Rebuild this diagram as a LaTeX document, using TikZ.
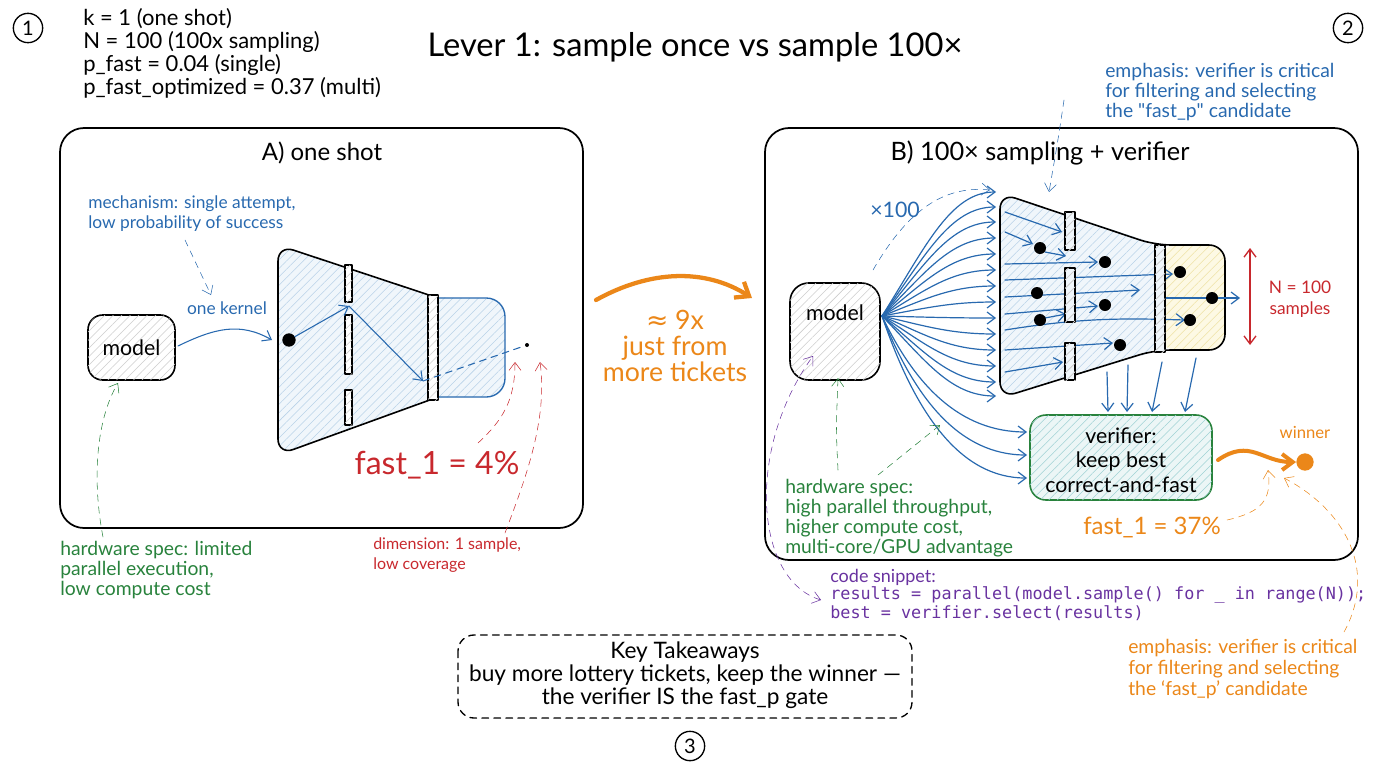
\documentclass[tikz,border=0pt]{standalone}
\usepackage{fontspec}
\setmainfont{Lato}
\setmonofont{DejaVu Sans Mono}
\newfontfamily\symf{DejaVu Sans}
\usetikzlibrary{arrows.meta,patterns.meta,calc}
\newcommand\setfs[2]{\fontsize{#1}{#2}\selectfont}
\definecolor{ablue}{RGB}{40,105,175}
\definecolor{agreen}{RGB}{40,130,60}
\definecolor{ared}{RGB}{200,40,45}
\definecolor{aorange}{RGB}{235,135,25}
\definecolor{apurple}{RGB}{105,50,160}
\definecolor{hatchblue}{RGB}{185,210,232}
\definecolor{fillblue}{RGB}{240,246,251}
\definecolor{hatchgray}{RGB}{205,205,205}
\definecolor{fillyellow}{RGB}{253,249,228}
\definecolor{hatchyellow}{RGB}{238,226,165}
\definecolor{fillteal}{RGB}{236,246,246}
\definecolor{hatchteal}{RGB}{160,210,212}
\tikzset{
  arr/.style={-{Straight Barb[length=6pt,width=9pt]}},
  darr/.style={{Straight Barb[length=6pt,width=9pt]}-{Straight Barb[length=6pt,width=9pt]}},
  dsh/.style={dash pattern=on 5pt off 4pt},
  hfill/.style 2 args={fill=#1, postaction={pattern={Lines[angle=45,distance=4.5pt,line width=0.4pt]}, pattern color=#2}},
  txt/.style={inner sep=0, align=left},
  num/.style={circle, draw, line width=1pt, minimum size=22pt, inner sep=0, font=\setfs{15}{17}},
  panel/.style={draw, line width=1.3pt, rounded corners=18pt},
  box/.style={draw, line width=1.2pt, rounded corners=11pt},
  bar/.style={draw, line width=0.8pt, hfill={white}{hatchgray}},
  ann/.style={txt, font=\setfs{13}{15}},
  dot/.style={circle, fill=black, inner sep=0, minimum size=#1},
}
\begin{document}
\begin{tikzpicture}[x=0.75pt,y=-0.75pt,line cap=round,line join=round]
\useasboundingbox (0,0) rectangle (1376,768);

% circled numbers
\node[num] (n1) at (28,28) {1};
\node[num] (n2) at (1348,28) {2};
\node[num] (n3) at (690,746) {3};

% parameters
\node[txt, anchor=north west, font=\setfs{16.5}{17.3}] (params) at (83,8)
  {k = 1 (one shot)\\N = 100 (100x sampling)\\p\_fast = 0.04 (single)\\p\_fast\_optimized = 0.37 (multi)};

% title
\node[font=\setfs{24.5}{28}] (title) at (695,47) {Lever 1: sample once vs sample 100×};

% ================= Panel A =================
\draw[panel] (60,128) rectangle (583,528);
\node[font=\setfs{18}{21}] (titleA) at (322,153) {A) one shot};

\node[ann, ablue, anchor=west] (mechA) at (88,214) {mechanism: single attempt,\\low probability of success};
\node[ablue, font=\setfs{13}{15}] (kernel) at (227,308) {one kernel};

\path[box, hfill={white}{hatchgray}] (88,315) rectangle (175,380);
\node[font=\setfs{16}{18}] (modelA) at (131.5,347.5) {model};
\coordinate (modelAe) at (178,346);
\coordinate (modelAs) at (118,383);

% funnel A
\path[hfill={fillblue}{hatchblue}, rounded corners=12pt]
  (278,300) -- (278,245) -- (438,298) -- (505,298) -- (505,397) -- (438,397) -- (278,455) -- cycle;
\draw[line width=1.2pt, rounded corners=12pt] (438,298) -- (278,245) -- (278,455) -- (438,397);
\draw[ablue, line width=1pt, rounded corners=14pt] (434,298) -- (505,298) -- (505,397) -- (434,397);
\path[bar] (345,265) rectangle (352,302);
\path[bar] (345,315) rectangle (352,374);
\path[bar] (345,390) rectangle (352,425);
\path[bar] (428,295) rectangle (438,400);
\node[dot=10pt] (startA) at (289,340) {};
\coordinate (gapA) at (349,306);
\coordinate (hitA) at (423,381);
\node[dot=3pt] (endA) at (527,345) {};
\draw[ablue, thick, arr] (modelAe) .. controls (215,328) and (240,322) .. (272,340);
\draw[ablue, thick, arr] (startA) -- (gapA);
\draw[ablue, thick, arr] (gapA) -- (hitA);
\draw[ablue, thick, dsh] (hitA) -- (endA);
\draw[ablue, dsh, arr] (185,240) -- (211,295);

\node[ared, font=\setfs{24}{28}] (fastA) at (437,465) {fast\_1 = 4\%};

\node[ann, agreen, anchor=west, font=\setfs{14.5}{15.3}] (hwA) at (60,570) {hardware spec: limited\\parallel execution,\\low compute cost};
\node[ann, ared, anchor=west, font=\setfs{12}{15}] (dimA) at (373,555) {dimension: 1 sample,\\low coverage};
\draw[agreen, dsh, arr] (103,537) .. controls (92,480) and (96,420) .. (modelAs);
\draw[ared, dsh, arr] (478,443) .. controls (503,420) and (515,400) .. (515,362);
\draw[ared, dsh, arr] (505,533) .. controls (525,480) and (548,420) .. (540,362);

% ================= middle =================
\draw[aorange, line width=3.2pt, -{Straight Barb[length=9pt,width=14pt]}] (596,300) .. controls (650,270) and (705,268) .. (752,298);
\node[aorange, font=\setfs{20}{19.5}, align=center] (gain) at (675,346) {{\symf ≈} 9x\\just from\\more tickets};

% ================= Panel B =================
\draw[panel] (765,128) rectangle (1358,560);
\node[font=\setfs{19}{21}] (titleB) at (1040,153) {B) 100× sampling + verifier};

\node[ann, ablue, anchor=west, font=\setfs{14.5}{15}] (empB) at (1105,92) {emphasis: verifier is critical\\for filtering and selecting\\the \textquotedbl fast\_p\textquotedbl{} candidate};
\draw[ablue, dsh, arr] (1064,100) .. controls (1058,140) .. (1049,192);

\path[box, rounded corners=14pt, hfill={white}{hatchgray}] (790,283) rectangle (880,380);
\node[font=\setfs{16}{18}] (modelB) at (835,313) {model};
\coordinate (modelBe) at (882,316);

% fan
\foreach \yy in {192,207,222,238,254,270,286,302,318,334,350,366,382,396} {
  \draw[ablue, line width=0.9pt, arr] (modelBe) .. controls (925,{316+(\yy-316)*0.55}) and (950,\yy) .. (996,\yy);
}
\foreach \yy in {432,455,478} {
  \draw[ablue, line width=0.9pt, arr] (modelBe) .. controls (915,{316+(\yy-316)*0.6}) and (960,\yy) .. (1027,\yy);
}
\node[ablue, font=\setfs{16}{18}] (x100) at (895,210) {×100};
\draw[ablue, dsh, arr] (873,270) .. controls (905,215) and (940,185) .. (990,190);

% funnel B
\path[hfill={fillblue}{hatchblue}, rounded corners=12pt]
  (1000,300) -- (1000,193) -- (1160,245) -- (1160,350) -- (1000,398) -- cycle;
\path[hfill={fillyellow}{hatchyellow}, rounded corners=12pt]
  (1160,245) -- (1225,245) -- (1225,350) -- (1160,350) -- cycle;
\draw[line width=1.2pt, rounded corners=12pt]
  (1000,300) -- (1000,193) -- (1155,245) -- (1225,245) -- (1225,350) -- (1155,350) -- (1000,398) -- cycle;

% internal arrows B
\draw[ablue, line width=0.9pt, arr] (1005,212) -- (1062,232);
\draw[ablue, line width=0.9pt, arr] (1005,232) -- (1033,244);
\draw[ablue, line width=0.9pt, arr] (1045,252) -- (1066,256);
\draw[ablue, line width=0.9pt, arr] (1005,264) -- (1098,262);
\draw[ablue, line width=0.9pt, arr] (1005,280) -- (1173,274);
\draw[ablue, line width=0.9pt, arr] (1005,297) -- (1140,290);
\draw[ablue, line width=0.9pt, arr] (1005,314) -- (1098,306);
\draw[ablue, line width=0.9pt, arr] (1005,330) .. controls (1080,318) and (1120,318) .. (1185,320);
\draw[ablue, line width=0.9pt, arr] (1045,318) -- (1066,314);
\draw[ablue, line width=0.9pt, arr] (1005,350) -- (1113,343);
\draw[ablue, line width=0.9pt, arr] (1005,372) -- (1063,362);
\draw[ablue, line width=0.9pt, arr] (1165,298) -- (1240,298);

\path[bar, hfill={fillblue}{hatchgray}] (1065,212) rectangle (1075,250);
\path[bar, hfill={fillblue}{hatchgray}] (1065,268) rectangle (1075,322);
\path[bar, hfill={fillblue}{hatchgray}] (1065,343) rectangle (1075,380);
\path[bar, hfill={fillblue}{hatchgray}] (1155,245) rectangle (1165,352);

\foreach \p/\q in {1040/248, 1105/262, 1180/272, 1037/293, 1105/305, 1212/298, 1040/320, 1190/320, 1120/345} {
  \node[dot=9pt] at (\p,\q) {};
}

% N = 100
\coordinate (nTop) at (1250,248);
\coordinate (nBot) at (1250,345);
\draw[ared, line width=1pt, darr] (nTop) -- (nBot);
\node[ared, font=\setfs{13}{16}, align=center] (nlab) at (1300,299) {N = 100\\samples};

% verifier
\path[draw=agreen, line width=1.2pt, rounded corners=12pt, hfill={fillteal}{hatchteal}] (1030,415) rectangle (1212,500);
\node[font=\setfs{16}{18.5}, align=center] (verifier) at (1121,460) {verifier:\\keep best\\correct-and-fast};
\draw[ablue, line width=0.9pt, arr] (1107,372) -- (1108,412);
\draw[ablue, line width=0.9pt, arr] (1128,365) -- (1127,412);
\draw[ablue, line width=0.9pt, arr] (1162,362) -- (1152,412);
\draw[ablue, line width=0.9pt, arr] (1196,358) -- (1185,412);

% winner
\node[circle, fill=aorange, inner sep=0, minimum size=13pt] (winner) at (1305,462) {};
\node[aorange, font=\setfs{12.5}{15}] (winlab) at (1305,432) {winner};
\draw[aorange, line width=3pt, -{Straight Barb[length=8pt,width=12pt]}] (1218,460) .. controls (1250,438) and (1262,462) .. (winner.west);

\node[aorange, font=\setfs{18}{21}] (fastB) at (1152,527) {fast\_1 = 37\%};
\draw[aorange, dsh, arr] (1227,520) .. controls (1262,512) and (1272,500) .. (1268,470);

\node[ann, aorange, anchor=west, font=\setfs{14.5}{15.5}] (empO) at (1128,669) {emphasis: verifier is critical\\for filtering and selecting\\the ‘fast\_p’ candidate};
\draw[aorange, dsh, arr] (1344,632) .. controls (1378,570) and (1345,510) .. (1284,478);

\node[ann, agreen, anchor=west, font=\setfs{14.5}{15}] (hwB) at (785,518) {hardware spec:\\high parallel throughput,\\higher compute cost,\\multi-core/GPU advantage};
\draw[agreen, dsh, arr] (838,470) .. controls (836,430) .. (838,378);
\draw[agreen, dsh, arr] (878,475) -- (940,425);

% code snippet
\node[txt, apurple, anchor=north west] (code) at (830,569)
  {{\setfs{13.5}{15}code snippet:}\\[1pt]
   {\ttfamily\setfs{12.6}{15}results = parallel(model.sample() for \_ in range(N));}\\
   {\ttfamily\setfs{12.6}{15}best = verifier.select(results)}};
\draw[apurple, dsh, darr] (821,600) .. controls (755,580) and (745,450) .. (813,356);

% key takeaways
\draw[line width=1pt, dsh, rounded corners=12pt] (458,635) rectangle (912,718);
\node[font=\setfs{17}{17.3}, align=center] (key) at (685,675) {Key Takeaways\\buy more lottery tickets, keep the winner —\\the verifier IS the fast\_p gate};

\end{tikzpicture}
\end{document}
